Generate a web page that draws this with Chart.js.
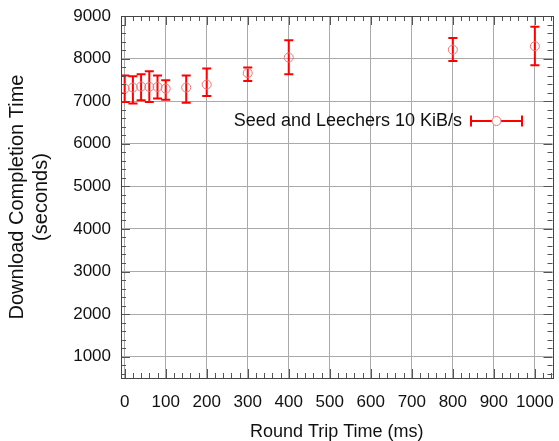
<!DOCTYPE html>
<html>
<head>
<meta charset="utf-8">
<script src="https://cdn.jsdelivr.net/npm/chart.js@4/dist/chart.umd.min.js"></script>
<style>
html,body{margin:0;padding:0;background:#fff;}
#wrap{width:559px;height:441px;}
</style>
</head>
<body>
<div id="wrap"><canvas id="c" width="559" height="441"></canvas></div>
<script>
// ---- data ----
const rttMs = [0, 20, 40, 60, 80, 100, 150, 200, 300, 400, 800, 1000];
const meanTime = [7295, 7320, 7345, 7335, 7335, 7295, 7320, 7390, 7660, 8025, 8210, 8290];
const lowTime  = [6980, 6945, 7020, 6980, 7060, 7035, 6965, 7120, 7475, 7630, 7945, 7845];
const highTime = [7605, 7585, 7630, 7700, 7605, 7490, 7600, 7765, 7790, 8430, 8485, 8745];
const xTickLabels = [0, 100, 200, 300, 400, 500, 600, 700, 800, 900, 1000];
const yTickLabels = [1000, 2000, 3000, 4000, 5000, 6000, 7000, 8000, 9000];
const seriesName = 'Seed and Leechers 10 KiB/s';

const FONT = 'Liberation Sans, Arial, Helvetica, sans-serif';
const ERR_COLOR = '#ff0000';
const PT_COLOR = '#f07474';

// error bar segments, separated by gaps
const errData = [];
rttMs.forEach((x, i) => {
  errData.push({x: x, y: lowTime[i]});
  errData.push({x: x, y: highTime[i]});
  errData.push({x: x, y: null});
});
const ptData = rttMs.map((x, i) => ({x: x, y: meanTime[i]}));

const framePlugin = {
  id: 'frame',
  afterDatasetsDraw(chart) {
    const ctx = chart.ctx, a = chart.chartArea;
    const xs = chart.scales.x, ys = chart.scales.y;
    ctx.save();
    ctx.strokeStyle = '#555555';
    ctx.lineWidth = 1;
    // inner ticks
    ctx.beginPath();
    for (let v = 0; v <= 1040; v += 20) {
      const px = Math.round(xs.getPixelForValue(v)) + 0.5;
      const len = (v % 100 === 0) ? 9 : 5;
      ctx.moveTo(px, a.bottom); ctx.lineTo(px, a.bottom - len);
      ctx.moveTo(px, a.top); ctx.lineTo(px, a.top + len);
    }
    for (let v = 600; v <= 9000; v += 200) {
      const py = Math.round(ys.getPixelForValue(v)) + 0.5;
      const len = (v % 1000 === 0) ? 9 : 5;
      ctx.moveTo(a.left, py); ctx.lineTo(a.left + len, py);
      ctx.moveTo(a.right, py); ctx.lineTo(a.right - len, py);
    }
    ctx.stroke();
    // box
    ctx.strokeStyle = '#444444';
    ctx.strokeRect(Math.round(a.left) + 0.5, Math.round(a.top) + 0.5,
                   Math.round(a.right - a.left), Math.round(a.bottom - a.top));
    // legend
    const ly = 121;
    ctx.font = '18px ' + FONT;
    ctx.fillStyle = '#111111';
    ctx.textAlign = 'right';
    ctx.textBaseline = 'middle';
    ctx.fillText(seriesName, 462, ly);
    ctx.strokeStyle = ERR_COLOR;
    ctx.lineWidth = 2;
    ctx.beginPath();
    ctx.moveTo(471, ly); ctx.lineTo(522, ly);
    ctx.moveTo(471, ly - 5.5); ctx.lineTo(471, ly + 5.5);
    ctx.moveTo(522, ly - 5.5); ctx.lineTo(522, ly + 5.5);
    ctx.stroke();
    ctx.fillStyle = '#ffffff';
    ctx.strokeStyle = PT_COLOR;
    ctx.lineWidth = 1;
    ctx.beginPath();
    ctx.arc(496.5, ly, 4.5, 0, Math.PI * 2);
    ctx.fill();
    ctx.stroke();
    ctx.restore();
  }
};

new Chart(document.getElementById('c'), {
  type: 'scatter',
  data: {
    datasets: [
      {
        label: seriesName,
        data: ptData,
        showLine: false,
        pointStyle: 'circle',
        pointRadius: 4.5,
        pointBorderWidth: 1,
        pointBorderColor: PT_COLOR,
        pointBackgroundColor: 'rgba(0,0,0,0)',
        order: 1
      },
      {
        label: 'err',
        data: errData,
        showLine: true,
        spanGaps: false,
        borderColor: ERR_COLOR,
        borderWidth: 2,
        pointStyle: 'line',
        pointRadius: 4.5,
        pointBorderWidth: 2,
        pointBorderColor: ERR_COLOR,
        order: 2
      }
    ]
  },
  options: {
    responsive: false,
    animation: false,
    events: [],
    layout: { padding: { top: 16, right: 5, left: 0, bottom: 0 } },
    plugins: { legend: { display: false }, tooltip: { enabled: false } },
    scales: {
      x: {
        type: 'linear',
        min: -9,
        max: 1043,
        afterBuildTicks(s) { s.ticks = xTickLabels.map(v => ({value: v})); },
        afterFit(s) { s.height = 63; s.paddingRight = 0; s.paddingLeft = 0; },
        grid: { color: '#aaaaaa', lineWidth: 1, drawTicks: false },
        border: { display: false },
        ticks: { font: { family: FONT, size: 17 }, color: '#111111', padding: 14, maxRotation: 0, autoSkip: false,
                 callback: (v) => String(v) },
        title: {
          display: true,
          text: 'Round Trip Time (ms)',
          font: { family: FONT, size: 18, lineHeight: 1.0 },
          color: '#111111',
          padding: { top: 0, bottom: 0 }
        }
      },
      y: {
        type: 'linear',
        min: 500,
        max: 9000,
        afterBuildTicks(s) { s.ticks = yTickLabels.map(v => ({value: v})); },
        afterFit(s) { s.width = 121; s.paddingTop = 0; s.paddingBottom = 0; },
        grid: { color: '#aaaaaa', lineWidth: 1, drawTicks: false },
        border: { display: false },
        ticks: { font: { family: FONT, size: 17 }, color: '#111111', padding: 10, autoSkip: false,
                 callback: (v) => String(v) },
        title: {
          display: true,
          text: ['Download Completion Time', '(seconds)'],
          font: { family: FONT, size: 20 },
          color: '#111111',
          padding: { top: 5, bottom: 0 }
        }
      }
    }
  },
  plugins: [framePlugin]
});
</script>
</body>
</html>
